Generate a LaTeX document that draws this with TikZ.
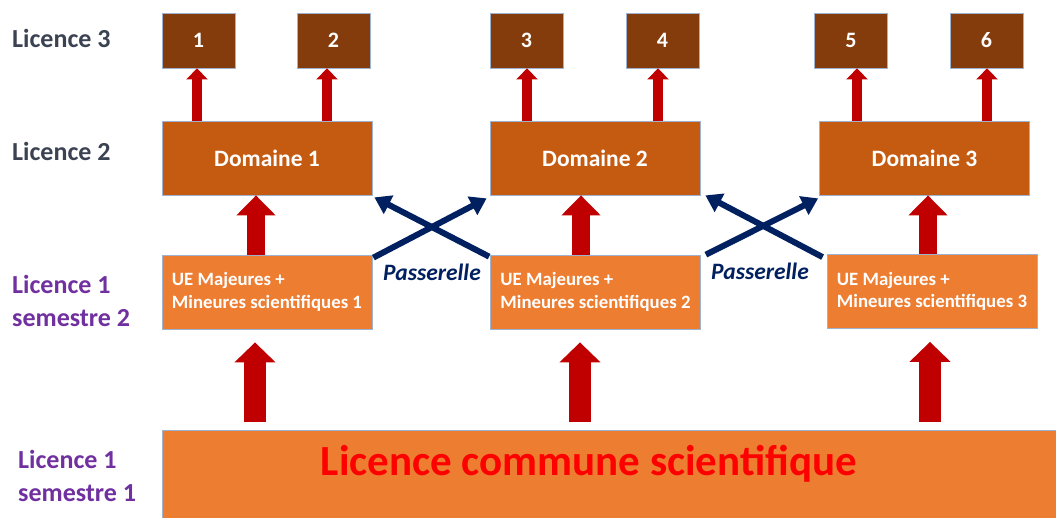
\documentclass[tikz,border=0pt]{standalone}
\usepackage{fontspec}
\setmainfont{Carlito}
\usetikzlibrary{arrows.meta,calc}
\definecolor{brownbox}{HTML}{843C0C}
\definecolor{domaine}{HTML}{C55A11}
\definecolor{orangebox}{HTML}{ED7D31}
\definecolor{redarrow}{HTML}{C00000}
\definecolor{navy}{HTML}{002060}
\definecolor{edgeblue}{HTML}{9DB3CF}
\definecolor{slate}{HTML}{3B4252}
\definecolor{purp}{HTML}{7030A0}
\definecolor{bigred}{HTML}{FF0000}
\tikzset{
  boxbase/.style={draw=edgeblue, line width=0.8pt, inner sep=0pt, anchor=center},
  l3box/.style={boxbase, fill=brownbox, minimum width=73pt, minimum height=55pt,
    text=white, font=\bfseries\fontsize{22}{24}\selectfont},
  dombox/.style={boxbase, fill=domaine, minimum width=210pt, minimum height=74pt,
    text=white, font=\bfseries\fontsize{23.5}{26}\selectfont},
  uebox/.style={boxbase, fill=orangebox, minimum width=210pt, minimum height=74pt,
    text=white, align=left, font=\bfseries\fontsize{18.8}{22.5}\selectfont},
  basebox/.style={boxbase, fill=orangebox, minimum width=898pt, minimum height=90pt},
  lablevel/.style={anchor=west, inner sep=0pt, align=left, font=\bfseries\fontsize{26}{33}\selectfont},
  passlab/.style={text=navy, inner sep=0pt, font=\bfseries\itshape\fontsize{23.5}{26}\selectfont},
  arrowS/.style={draw=redarrow, line width=10pt, -{Triangle[width=21pt,length=11pt]}},
  arrowM/.style={draw=redarrow, line width=18pt, -{Triangle[width=38pt,length=20pt]}},
  arrowL/.style={draw=redarrow, line width=22pt, -{Triangle[width=40pt,length=20pt]}},
  passarrow/.style={draw=navy, line width=6pt, -{Triangle[width=20pt,length=16pt]}},
}
\begin{document}
\begin{tikzpicture}[x=1pt,y=-1pt]
\useasboundingbox (0,0) rectangle (1056,517);
\fill[white] (0,0) rectangle (1056,517);

% level labels
\node[lablevel, text=slate] (lab3) at (12,38) {Licence 3};
\node[lablevel, text=slate] (lab2) at (12,151) {Licence 2};
\node[lablevel, text=purp] (lab12) at (12,301) {Licence 1\\semestre 2};
\node[lablevel, text=purp] (lab11) at (18,476) {Licence 1\\semestre 1};

% Licence 3 boxes
\node[l3box] (t1) at (198.5,40.5) {1};
\node[l3box] (t2) at (333.5,40.5) {2};
\node[l3box] (t3) at (526.5,40.5) {3};
\node[l3box] (t4) at (662.5,40.5) {4};
\node[l3box] (t5) at (851,40.5) {5};
\node[l3box] (t6) at (986.5,40.5) {6};

% Domaine boxes
\node[dombox] (d1) at (267,158) {Domaine 1};
\node[dombox] (d2) at (595,158) {Domaine 2};
\node[dombox] (d3) at (924.5,158) {Domaine 3};

% UE boxes
\node[uebox] (u1) at (267,292) {UE Majeures +\\Mineures scientifiques 1};
\node[uebox] (u2) at (595.5,292) {UE Majeures +\\Mineures scientifiques 2};
\node[uebox] (u3) at (932,291.5) {UE Majeures +\\Mineures scientifiques 3};

% base box
\node[basebox] (b) at (611,475) {};
\node[text=bigred, inner sep=0pt, font=\bfseries\fontsize{43}{46}\selectfont] (lcs) at (589,464) {Licence commune scientifique};

% arrows Domaine -> Licence 3
\draw[arrowS] ([xshift=-1.5pt]t1.south |- d1.north) -- ([xshift=-1.5pt]t1.south);
\draw[arrowS] ([xshift=-6.5pt]t2.south |- d1.north) -- ([xshift=-6.5pt]t2.south);
\draw[arrowS] ([xshift=0.5pt]t3.south |- d2.north) -- ([xshift=0.5pt]t3.south);
\draw[arrowS] ([xshift=-4.5pt]t4.south |- d2.north) -- ([xshift=-4.5pt]t4.south);
\draw[arrowS] ([xshift=6pt]t5.south |- d3.north) -- ([xshift=6pt]t5.south);
\draw[arrowS] ([xshift=0.5pt]t6.south |- d3.north) -- ([xshift=0.5pt]t6.south);

% arrows UE -> Domaine
\draw[arrowM] ([xshift=-11pt]d1.south |- u1.north) -- ([xshift=-11pt]d1.south);
\draw[arrowM] ([xshift=-14pt]d2.south |- u2.north) -- ([xshift=-14pt]d2.south);
\draw[arrowM] ([xshift=3.5pt]d3.south |- u3.north) -- ([xshift=3.5pt]d3.south);

% arrows base -> UE
\draw[arrowL] ([xshift=-12pt,yshift=8pt]u1.south |- b.north) -- ([xshift=-12pt,yshift=-13pt]u1.south);
\draw[arrowL] ([xshift=-15.5pt,yshift=8pt]u2.south |- b.north) -- ([xshift=-15.5pt,yshift=-13pt]u2.south);
\draw[arrowL] ([xshift=-2pt,yshift=8pt]u3.south |- b.north) -- ([xshift=-2pt,yshift=-13pt]u3.south);

% passerelles
\draw[passarrow] ([xshift=1pt,yshift=-3pt]u1.north east) -- ([xshift=-3pt,yshift=-3pt]d2.south west);
\draw[passarrow] ([xshift=-1pt,yshift=-2pt]u2.north west) -- ([xshift=2pt,yshift=-2pt]d1.south east);
\draw[passarrow] ([xshift=5pt,yshift=0pt]u2.north east) -- ([xshift=-1pt,yshift=-3pt]d3.south west);
\draw[passarrow] ([xshift=-4pt,yshift=-3pt]u3.north west) -- ([xshift=5pt,yshift=0pt]d2.south east);
\node[passlab] (p1) at (432,272) {Passerelle};
\node[passlab] (p2) at (760,271) {Passerelle};
\end{tikzpicture}
\end{document}
